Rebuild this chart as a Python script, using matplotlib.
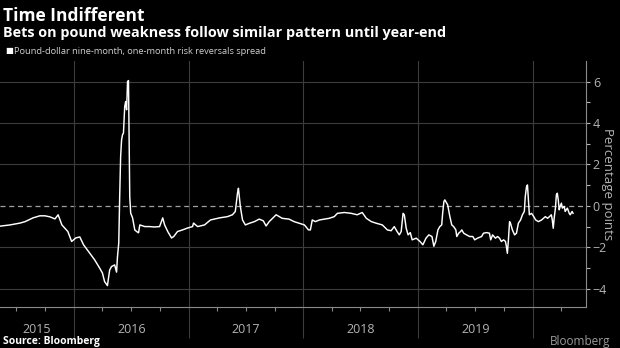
import matplotlib
matplotlib.use("Agg")
import matplotlib.pyplot as plt
import matplotlib.dates as mdates
import matplotlib.transforms as mtransforms
import pandas as pd

plt.rcParams["font.family"] = ["Open Sans", "DejaVu Sans"]

# GBP/USD 9M minus 1M 25-delta risk reversal spread (percentage points)
dates = [
    "2015-05-11", "2015-06-12", "2015-07-14", "2015-07-30", "2015-08-24", "2015-09-15",
    "2015-10-01", "2015-10-17", "2015-11-02", "2015-11-12", "2015-11-24", "2015-12-13",
    "2015-12-25", "2016-01-07", "2016-01-20", "2016-02-01", "2016-02-20", "2016-03-07",
    "2016-03-23", "2016-04-01", "2016-04-08", "2016-04-11", "2016-04-17", "2016-04-24",
    "2016-04-30", "2016-05-10", "2016-05-16", "2016-05-19", "2016-05-23", "2016-05-26",
    "2016-05-29", "2016-06-01", "2016-06-04", "2016-06-07", "2016-06-11", "2016-06-14",
    "2016-06-17", "2016-06-20", "2016-06-23", "2016-06-27", "2016-06-30", "2016-07-06",
    "2016-07-13", "2016-07-19", "2016-07-25", "2016-07-29", "2016-08-14", "2016-08-29",
    "2016-09-14", "2016-09-30", "2016-10-10", "2016-10-16", "2016-10-26", "2016-11-07",
    "2016-11-14", "2016-11-26", "2016-12-12", "2016-12-28", "2017-01-13", "2017-01-16",
    "2017-01-29", "2017-02-20", "2017-03-11", "2017-04-09", "2017-05-04", "2017-05-20",
    "2017-05-29", "2017-06-05", "2017-06-08", "2017-06-14", "2017-06-21", "2017-06-30",
    "2017-07-13", "2017-07-29", "2017-08-13", "2017-08-26", "2017-09-04", "2017-09-14",
    "2017-10-06", "2017-10-25", "2017-11-16", "2017-12-02", "2017-12-18", "2018-01-04",
    "2018-01-17", "2018-01-23", "2018-01-29", "2018-02-08", "2018-02-21", "2018-03-08",
    "2018-03-24", "2018-04-09", "2018-04-19", "2018-05-11", "2018-06-02", "2018-06-21",
    "2018-07-07", "2018-07-20", "2018-08-05", "2018-08-21", "2018-09-09", "2018-09-25",
    "2018-10-07", "2018-10-17", "2018-10-26", "2018-11-02", "2018-11-08", "2018-11-14",
    "2018-11-18", "2018-11-24", "2018-11-30", "2018-12-07", "2018-12-13", "2018-12-26",
    "2019-01-07", "2019-01-16", "2019-01-26", "2019-02-04", "2019-02-14", "2019-02-20",
    "2019-02-26", "2019-03-05", "2019-03-11", "2019-03-17", "2019-03-20", "2019-03-24",
    "2019-03-27", "2019-04-02", "2019-04-05", "2019-04-12", "2019-04-18", "2019-04-24",
    "2019-05-01", "2019-05-04", "2019-05-10", "2019-05-16", "2019-05-20", "2019-05-26",
    "2019-06-04", "2019-06-14", "2019-06-24", "2019-06-30", "2019-07-09", "2019-07-22",
    "2019-07-28", "2019-08-07", "2019-08-16", "2019-08-20", "2019-08-26", "2019-09-04",
    "2019-09-11", "2019-09-17", "2019-09-23", "2019-09-30", "2019-10-06", "2019-10-09",
    "2019-10-12", "2019-10-15", "2019-10-19", "2019-10-22", "2019-10-25", "2019-10-28",
    "2019-11-04", "2019-11-10", "2019-11-16", "2019-11-23", "2019-11-29", "2019-12-05",
    "2019-12-08", "2019-12-12", "2019-12-15", "2019-12-18", "2019-12-21", "2019-12-28",
    "2020-01-04", "2020-01-10", "2020-01-19", "2020-01-29", "2020-02-04", "2020-02-10",
    "2020-02-17", "2020-02-23", "2020-02-29", "2020-03-03", "2020-03-06", "2020-03-09",
    "2020-03-13", "2020-03-16", "2020-03-19", "2020-03-22", "2020-03-25", "2020-03-28",
    "2020-04-01", "2020-04-04", "2020-04-10", "2020-04-13", "2020-04-20", "2020-04-26",
    "2020-04-29", "2020-05-05", "2020-05-08",
]
spread = [
    -0.98, -0.92, -0.83, -0.76, -0.58, -0.48,
    -0.48, -0.53, -0.63, -0.43, -0.92, -1.24,
    -1.72, -1.55, -1.50, -1.88, -2.27, -2.60,
    -3.00, -3.24, -3.66, -3.72, -3.85, -3.10,
    -2.93, -2.85, -3.20, -2.45, -1.80, 0.45,
    2.38, 3.19, 3.43, 3.52, 4.80, 5.04,
    4.64, 6.00, 6.05, 0.45, -0.35, -0.58,
    -1.16, -1.24, -1.30, -0.92, -1.00, -1.00,
    -1.02, -1.00, -0.58, -0.92, -1.24, -1.55,
    -1.48, -1.24, -1.16, -1.07, -1.00, -0.83,
    -1.00, -0.92, -0.68, -0.58, -0.52, -0.43,
    -0.27, 0.62, 0.85, -0.03, -0.68, -0.92,
    -0.84, -0.76, -0.64, -0.72, -0.97, -0.76,
    -0.43, -0.60, -0.64, -0.76, -0.84, -0.92,
    -1.16, -1.16, -0.68, -0.76, -0.68, -0.64,
    -0.60, -0.52, -0.36, -0.32, -0.36, -0.43,
    -0.32, -0.60, -0.76, -0.84, -0.92, -1.16,
    -1.20, -1.00, -1.24, -1.40, -1.24, -0.36,
    -0.43, -1.08, -1.40, -1.29, -1.64, -1.56,
    -1.72, -1.88, -1.56, -1.40, -1.48, -1.95,
    -1.72, -1.16, -1.00, -0.92, -0.36, 0.21,
    0.29, 0.13, 0.05, -0.52, -0.92, -1.00,
    -1.16, -1.48, -1.32, -1.24, -1.16, -1.32,
    -1.40, -1.48, -1.48, -1.64, -1.56, -1.48,
    -1.32, -1.29, -1.32, -1.64, -1.40, -1.56,
    -1.48, -1.56, -1.72, -1.64, -1.72, -1.97,
    -2.29, -1.72, -0.76, -0.84, -1.00, -1.16,
    -1.40, -1.32, -0.84, -0.68, -0.43, -0.27,
    0.45, 0.93, 1.01, 0.29, -0.43, -0.36,
    -0.52, -0.68, -0.76, -0.68, -0.60, -0.52,
    -0.60, -0.52, -0.43, -0.68, -1.08, -0.60,
    -0.11, 0.53, 0.61, 0.29, -0.19, -0.03,
    0.13, -0.11, -0.03, -0.27, -0.11, -0.36,
    -0.43, -0.27, -0.36,
]
years = [2015, 2016, 2017, 2018, 2019]
y_ticks = [-4, -2, 0, 2, 4, 6]

BG = "black"
GRID = "#3c3c3c"
AXIS = "#8a8a8a"
LABEL = "#b4b4b4"

x = pd.to_datetime(dates)
x_start = pd.Timestamp("2015-05-11")
x_end = pd.Timestamp("2020-06-18")

fig = plt.figure(figsize=(6.2, 3.48), dpi=100, facecolor=BG)
ax = fig.add_axes([0.0, 0.118, 0.945, 0.707], facecolor=BG)

# horizontal reference lines, dashed at zero
for v in y_ticks:
    if v == 0:
        ax.axhline(v, color="#a0a0a0", lw=0.9, ls=(0, (4, 3)), zorder=1)
    else:
        ax.axhline(v, color=GRID, lw=0.8, zorder=1)

ax.plot(x, spread, color="white", lw=1.05, zorder=3)

ax.set_ylim(-4.88, 7.0)
ax.set_xlim(x_start, x_end)

# y axis on the right
ax.yaxis.tick_right()
ax.set_yticks(y_ticks)
ax.set_yticks([-3, -1, 1, 3, 5], minor=True)
ax.tick_params(axis="y", which="both", direction="out", colors=LABEL,
               length=3, width=0.8, pad=2, labelsize=9)
ax.set_ylabel("Percentage points", color=LABEL, fontsize=9.5, rotation=270,
              labelpad=5)
ax.yaxis.set_label_position("right")

# x axis: year separators as long ticks, quarters as short ones
ax.xaxis.set_major_locator(mdates.YearLocator())
ax.xaxis.set_minor_locator(mdates.MonthLocator(bymonth=[4, 7, 10]))
ax.xaxis.set_major_formatter(plt.NullFormatter())
ax.tick_params(axis="x", which="major", length=22, width=0.8, color=GRID)
ax.tick_params(axis="x", which="minor", length=3, width=0.8, color=AXIS)
ax.grid(axis="x", which="major", color=GRID, lw=0.8, zorder=0)

# year labels centred in the visible part of each year
trans = mtransforms.blended_transform_factory(ax.transData, ax.transAxes)
for yr in years:
    lo = max(pd.Timestamp(f"{yr}-01-01"), x_start)
    hi = min(pd.Timestamp(f"{yr + 1}-01-01"), x_end)
    mid = lo + (hi - lo) / 2
    ax.text(mid, -0.09, str(yr), transform=trans, ha="center", va="center",
            color=LABEL, fontsize=9)

for side in ["left", "top"]:
    ax.spines[side].set_visible(False)
ax.spines["right"].set_color(AXIS)
ax.spines["bottom"].set_color(AXIS)
ax.spines["right"].set_linewidth(0.8)
ax.spines["bottom"].set_linewidth(0.8)

# headline block
fig.text(0.005, 0.955, "Time Indifferent", color="white", fontsize=12.5,
         fontweight="bold", ha="left", va="center")
fig.text(0.005, 0.905, "Bets on pound weakness follow similar pattern until year-end",
         color="white", fontsize=10.4, fontweight="bold", ha="left", va="center")
fig.text(0.008, 0.851, "\u25A0", color="white", fontsize=6, ha="left", va="center")
fig.text(0.022, 0.852, "Pound-dollar nine-month, one-month risk reversals spread",
         color="#d0d0d0", fontsize=6.7, ha="left", va="center")

fig.text(0.005, 0.018, "Source: Bloomberg", color="white", fontsize=7.5,
         fontweight="bold", ha="left", va="center")
fig.text(0.985, 0.018, "Bloomberg", color="#9a9a9a", fontsize=8.5,
         ha="right", va="center")

fig.savefig("out.png", dpi=100, facecolor=BG)
